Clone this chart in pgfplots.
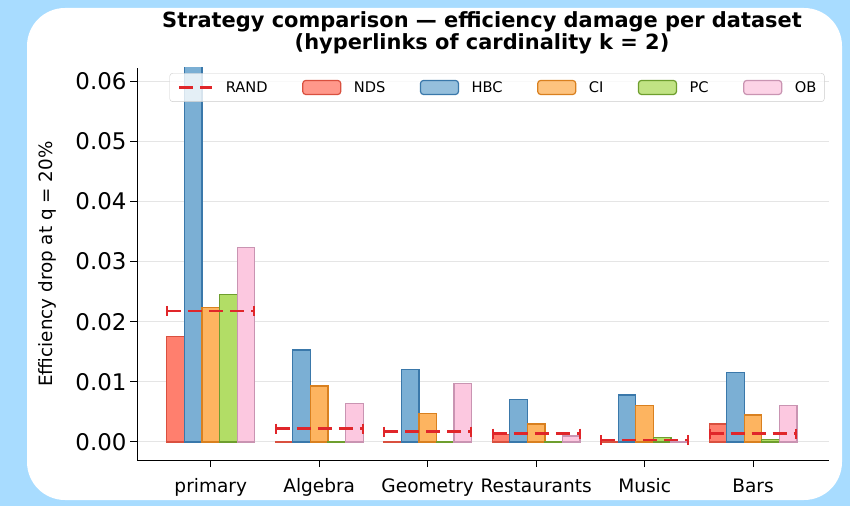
\documentclass[border=0pt]{standalone}
\usepackage{pgfplots}
\pgfplotsset{compat=1.18}
\usepackage{fontspec}
\setmainfont{DejaVu Sans}

\definecolor{bgblue}{HTML}{A8DCFF}
\definecolor{ndsF}{HTML}{FF7F6E}
\definecolor{ndsE}{HTML}{D9503F}
\definecolor{hbcF}{HTML}{7BAFD4}
\definecolor{hbcE}{HTML}{3A78AA}
\definecolor{ciF}{HTML}{FDB460}
\definecolor{ciE}{HTML}{D9801F}
\definecolor{pcF}{HTML}{B2DD66}
\definecolor{pcE}{HTML}{6E9E2E}
\definecolor{obF}{HTML}{FCC8E0}
\definecolor{obE}{HTML}{C994B2}
\definecolor{randC}{HTML}{E0262A}

\pgfplotsset{
  barleg/.style={legend image code/.code={\draw[##1] (0bp,-7bp) rectangle (38bp,7bp);}},
  randleg/.style={legend image code/.code={\draw[##1] (0bp,0bp) -- (33bp,0bp);}},
  randstyle/.style={randC, line width=2.6bp, dash pattern=on 14bp off 7bp},
}

% efficiency drop per dataset (0=primary ... 5=Bars)
\pgfplotstableread{
x    nds     hbc     ci      pc      ob
0    0.0176  0.0650  0.0223  0.0245  0.0324
1    0.0001  0.0153  0.0093  0.0001  0.0064
2    0.0001  0.0121  0.0048  0.0001  0.0097
3    0.0012  0.0070  0.0030  0.0001  0.0010
4    0.0001  0.0078  0.0060  0.0008  0.0001
5    0.0030  0.0115  0.0045  0.0004  0.0060
}\drops

\begin{document}
\begin{tikzpicture}[x=1bp,y=1bp]
\useasboundingbox (0,0) rectangle (850,-506);
\fill[bgblue] (0,0) rectangle (850,-506);
\fill[white, rounded corners=38bp] (27,-8) rectangle (842,-500);

\begin{axis}[
  at={(137bp,-460bp)}, anchor=south west, scale only axis,
  width=692bp, height=392bp,
  xmin=-0.68, xmax=5.7, ymin=-0.003, ymax=0.0622,
  axis x line*=bottom, axis y line*=left,
  axis line style={line width=1bp, black},
  xtick={0,1,2,3,4,5},
  xticklabels={primary,Algebra,Geometry,Restaurants,Music,Bars},
  ytick={0,0.01,0.02,0.03,0.04,0.05,0.06},
  scaled y ticks=false,
  /pgf/number format/fixed, /pgf/number format/fixed zerofill,
  /pgf/number format/precision=2,
  /pgf/number format/assume math mode=true,
  yticklabel style={font=\fontsize{23}{26}\selectfont},
  xticklabel style={font=\fontsize{18.6}{22}\selectfont, yshift=-8bp},
  tick align=outside, major tick length=7bp,
  tick style={line width=1bp, black},
  ymajorgrids, grid style={line width=1bp, black!10},
  ylabel={Efficiency drop at q = 20\%},
  ylabel style={font=\fontsize{18.4}{21}\selectfont, at={(axis description cs:-0.13,0.5)}, anchor=center},
  legend columns=6,
  legend style={at={(0.047,0.987)}, anchor=north west, draw=black!20,
    rounded corners=3bp, fill=white, fill opacity=0.8, text opacity=1,
    font=\fontsize{14.7}{17}\selectfont, inner xsep=8bp, inner ysep=6bp,
    nodes={inner xsep=0pt, inner ysep=2bp},
    /tikz/every odd column/.append style={column sep=12.5bp},
    /tikz/every even column/.append style={column sep=34.5bp}},
  legend cell align=left,
]
\addlegendimage{randstyle, randleg}
\addlegendentry{RAND}
\addplot[ybar, bar width=0.162, bar shift=-0.324, fill=ndsF, draw=ndsE, line width=1.2bp, barleg]
  table[x=x, y=nds] {\drops};
\addlegendentry{NDS}
\addplot[ybar, bar width=0.162, bar shift=-0.162, fill=hbcF, draw=hbcE, line width=1.2bp, barleg]
  table[x=x, y=hbc] {\drops};
\addlegendentry{HBC}
\addplot[ybar, bar width=0.162, bar shift=0, fill=ciF, draw=ciE, line width=1.2bp, barleg]
  table[x=x, y=ci] {\drops};
\addlegendentry{CI}
\addplot[ybar, bar width=0.162, bar shift=0.162, fill=pcF, draw=pcE, line width=1.2bp, barleg]
  table[x=x, y=pc] {\drops};
\addlegendentry{PC}
\addplot[ybar, bar width=0.162, bar shift=0.324, fill=obF, draw=obE, line width=1.2bp, barleg]
  table[x=x, y=ob] {\drops};
\addlegendentry{OB}
% random baseline, drawn over the bars
\addplot[randstyle, forget plot, unbounded coords=jump,
  mark=|, mark size=5bp, mark options={solid, line width=2bp}]
  coordinates {
  (-0.40,0.0218) (0.40,0.0218) (0.5,nan)
  (0.60,0.0022) (1.40,0.0022) (1.5,nan)
  (1.60,0.0017) (2.40,0.0017) (2.5,nan)
  (2.60,0.0014) (3.40,0.0014) (3.5,nan)
  (3.60,0.0003) (4.40,0.0003) (4.5,nan)
  (4.60,0.0014) (5.40,0.0014)
  };
\end{axis}

\node[font=\bfseries\fontsize{21}{24}\selectfont, anchor=base] at (482,-28) {Strategy comparison — efficiency damage per dataset};
\node[font=\bfseries\fontsize{21}{24}\selectfont, anchor=base] at (482,-50) {(hyperlinks of cardinality k = 2)};
\end{tikzpicture}
\end{document}
